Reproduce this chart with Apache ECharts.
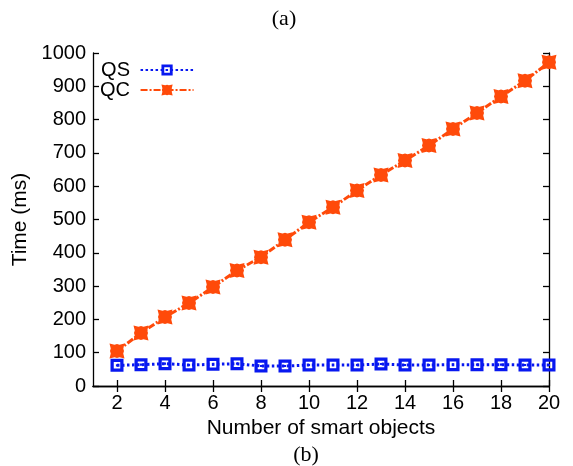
<!DOCTYPE html>
<html>
<head>
<meta charset="utf-8">
<script src="https://cdn.jsdelivr.net/npm/echarts@6/dist/echarts.min.js"></script>
<style>html,body{margin:0;padding:0;background:#fff}#c{width:573px;height:466px}</style>
</head>
<body>
<div id="c"></div>
<script>
const xValues = [2,3,4,5,6,7,8,9,10,11,12,13,14,15,16,17,18,19,20];
const qsValues = [62,64,67,63,65,67,60,60,63,63,63,66,63,63,64,64,64,63,63];
const qcValues = [105,159,207,249,297,347,387,439,492,537,587,634,677,722,772,820,869,917,972];
const xTicks = [2,4,6,8,10,12,14,16,18,20];
const yTicks = [0,100,200,300,400,500,600,700,800,900,1000];
const seriesNames = ['QS','QC'];

const FONT = '"Liberation Sans", Arial, Helvetica, sans-serif';
const SERIF = '"Liberation Serif", "Times New Roman", serif';
const chart = echarts.init(document.getElementById('c'), null, {renderer:'canvas'});
const qsSymbol = 'path://M0,0 H12 V12 H0 Z M3,3 V9 H9 V3 Z M5,5 H7 V7 H5 Z';
const qcSymbol = 'path://M0,0 L4,1 L6,0.4 L8,1 L12,0 L11,4 L11.6,6 L11,8 L12,12 L8,11 L6,11.6 L4,11 L0,12 L1,8 L0.4,6 L1,4 Z';
const axisLine = {show:true, lineStyle:{color:'#000', width:1.3}};
const tickStyle = {show:true, inside:true, length:6, lineStyle:{color:'#000', width:1.3}};

chart.setOption({
  backgroundColor:'#fff',
  animation:false,
  graphic:[
    {type:'text', x:284, y:19, style:{text:'(a)', fontSize:22, fontFamily:SERIF, fill:'#000', align:'center', verticalAlign:'middle'}},
    {type:'text', x:306, y:455, style:{text:'(b)', fontSize:22, fontFamily:SERIF, fill:'#000', align:'center', verticalAlign:'middle'}}
  ],
  grid:{left:93, right:24, top:53, bottom:80, containLabel:false},
  legend:{
    orient:'vertical', left:95, top:55, align:'right',
    itemWidth:53, itemHeight:14, itemGap:0,
    textStyle:{fontFamily:FONT, fontSize:20, color:'#000'},
    formatter: n => n + ' ',
    data:seriesNames
  },
  xAxis:[
    {type:'value', min:1, max:20, position:'bottom',
     name:'Number of smart objects', nameLocation:'middle', nameGap:30,
     nameTextStyle:{fontFamily:FONT, fontSize:21, color:'#000'},
     axisLine:axisLine,
     axisTick:Object.assign({}, tickStyle, {customValues:xTicks}),
     axisLabel:{customValues:xTicks, fontFamily:FONT, fontSize:20, color:'#000', margin:7},
     splitLine:{show:false}},
    {type:'value', min:1, max:20, position:'top',
     axisLine:axisLine,
     axisTick:Object.assign({}, tickStyle, {customValues:xTicks}),
     axisLabel:{show:false}, splitLine:{show:false}}
  ],
  yAxis:[
    {type:'value', min:0, max:1000, interval:100, position:'left',
     name:'Time (ms)', nameLocation:'middle', nameGap:53,
     nameTextStyle:{fontFamily:FONT, fontSize:21, color:'#000'},
     axisLine:axisLine, axisTick:tickStyle,
     axisLabel:{customValues:yTicks, formatter: v => String(v), fontFamily:FONT, fontSize:20, color:'#000', margin:7},
     splitLine:{show:false}},
    {type:'value', min:0, max:1000, interval:100, position:'right',
     axisLine:axisLine, axisTick:tickStyle,
     axisLabel:{show:false}, splitLine:{show:false}}
  ],
  series:[
    {name:seriesNames[0], type:'line', data:xValues.map((x,i)=>[x,qsValues[i]]),
     symbol:qsSymbol, symbolSize:13, showAllSymbol:true,
     itemStyle:{color:'#0818f0'},
     lineStyle:{color:'#0818f0', width:3, type:[2.5,2.5]},
     z:3},
    {name:seriesNames[1], type:'line', data:xValues.map((x,i)=>[x,qcValues[i]]),
     symbol:qcSymbol, symbolSize:15, showAllSymbol:true,
     itemStyle:{color:'#ff4a0a'},
     lineStyle:{color:'#ff4a0a', width:3, type:[7,2,2,2]},
     z:2}
  ]
});
</script>
</body>
</html>
